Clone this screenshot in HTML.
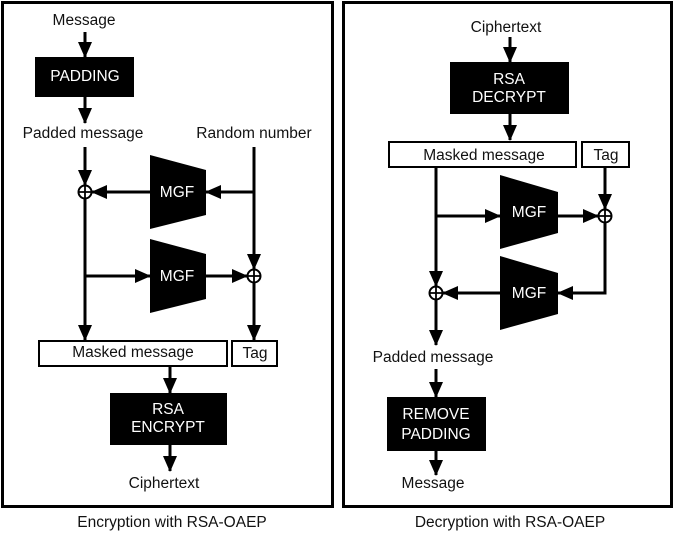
<!DOCTYPE html>
<html><head><style>
html,body{margin:0;padding:0;background:#fff;}
svg{display:block;}
text{font-family:"Liberation Sans",Arial,sans-serif;font-size:15.5px;fill:#111;text-anchor:middle;dominant-baseline:middle;}
</style></head><body>
<svg width="674" height="534" viewBox="0 0 674 534" xmlns="http://www.w3.org/2000/svg">
<defs>
<marker id="a" markerWidth="16" markerHeight="16" refX="15" refY="8" orient="auto" markerUnits="userSpaceOnUse">
<path d="M0,1 L16,8 L0,15 z" fill="#000"/>
</marker>
</defs>
<rect width="674" height="534" fill="#fff"/>
<rect x="2.5" y="2.5" width="330" height="504" fill="none" stroke="#000" stroke-width="3"/>
<rect x="343.5" y="2.5" width="328" height="504" fill="none" stroke="#000" stroke-width="3"/>

<g stroke="#000" stroke-width="3" fill="none">
<line x1="85" y1="32" x2="85" y2="57" marker-end="url(#a)"/>
<line x1="85" y1="97" x2="85" y2="123" marker-end="url(#a)"/>
<line x1="85" y1="147" x2="85" y2="185" marker-end="url(#a)"/>
<line x1="85" y1="199" x2="85" y2="340" marker-end="url(#a)"/>
<line x1="150" y1="192" x2="92" y2="192" marker-end="url(#a)"/>
<line x1="254" y1="192" x2="206" y2="192" marker-end="url(#a)"/>
<line x1="254" y1="147" x2="254" y2="269" marker-end="url(#a)"/>
<line x1="85" y1="276" x2="150" y2="276" marker-end="url(#a)"/>
<line x1="206" y1="276" x2="247" y2="276" marker-end="url(#a)"/>
<line x1="254" y1="283" x2="254" y2="340" marker-end="url(#a)"/>
<line x1="170" y1="366" x2="170" y2="393" marker-end="url(#a)"/>
<line x1="170" y1="445" x2="170" y2="471" marker-end="url(#a)"/>
<line x1="510" y1="37" x2="510" y2="62" marker-end="url(#a)"/>
<line x1="510" y1="114" x2="510" y2="140" marker-end="url(#a)"/>
<line x1="436" y1="167" x2="436" y2="286" marker-end="url(#a)"/>
<line x1="436" y1="216" x2="500" y2="216" marker-end="url(#a)"/>
<line x1="558" y1="216" x2="598" y2="216" marker-end="url(#a)"/>
<line x1="605" y1="167" x2="605" y2="209" marker-end="url(#a)"/>
<polyline points="605,223 605,293 558,293" marker-end="url(#a)"/>
<line x1="500" y1="293" x2="443" y2="293" marker-end="url(#a)"/>
<line x1="436" y1="300" x2="436" y2="345" marker-end="url(#a)"/>
<line x1="436" y1="369" x2="436" y2="397" marker-end="url(#a)"/>
<line x1="436" y1="451" x2="436" y2="475" marker-end="url(#a)"/>
</g>

<g stroke="#000" stroke-width="2" fill="#fff">
<circle cx="85" cy="192" r="6.5"/><circle cx="254" cy="276" r="6.5"/>
<circle cx="605" cy="216" r="6.5"/><circle cx="436" cy="293" r="6.5"/>
</g>
<g stroke="#000" stroke-width="1.8">
<path d="M78.5,192 H91.5 M85,185.5 V198.5"/><path d="M247.5,276 H260.5 M254,269.5 V282.5"/>
<path d="M598.5,216 H611.5 M605,209.5 V222.5"/><path d="M429.5,293 H442.5 M436,286.5 V299.5"/>
</g>

<rect x="35" y="57" width="99" height="40" fill="#000"/>
<text x="85" y="77" style="fill:#fff">PADDING</text>
<rect x="110" y="393" width="117" height="52" fill="#000"/>
<text x="168" y="410" style="fill:#fff">RSA</text>
<text x="168" y="428" style="fill:#fff">ENCRYPT</text>
<rect x="450" y="62" width="119" height="52" fill="#000"/>
<text x="509" y="80" style="fill:#fff">RSA</text>
<text x="509" y="98" style="fill:#fff">DECRYPT</text>
<rect x="387" y="397" width="99" height="54" fill="#000"/>
<text x="436" y="415" style="fill:#fff">REMOVE</text>
<text x="436" y="435" style="fill:#fff">PADDING</text>

<polygon points="150,155 206,170 206,215 150,229" fill="#000"/>
<text x="177" y="193" style="fill:#fff">MGF</text>
<polygon points="150,239 206,254 206,299 150,313" fill="#000"/>
<text x="177" y="277" style="fill:#fff">MGF</text>
<polygon points="500,175 558,192 558,233 500,249" fill="#000"/>
<text x="529" y="213" style="fill:#fff">MGF</text>
<polygon points="500,256 558,273 558,314 500,330" fill="#000"/>
<text x="529" y="294" style="fill:#fff">MGF</text>

<g fill="#fff" stroke="#000" stroke-width="2">
<rect x="39" y="341" width="188" height="25"/>
<rect x="232" y="341" width="45" height="25"/>
<rect x="389" y="142" width="187" height="25"/>
<rect x="582" y="142" width="47" height="25"/>
</g>
<text x="133" y="353">Masked message</text>
<text x="255" y="354">Tag</text>
<text x="484" y="156">Masked message</text>
<text x="606" y="156">Tag</text>

<text x="84" y="21">Message</text>
<text x="83" y="134">Padded message</text>
<text x="254" y="134">Random number</text>
<text x="164" y="484">Ciphertext</text>
<text x="506" y="28">Ciphertext</text>
<text x="433" y="358">Padded message</text>
<text x="433" y="484">Message</text>
<text x="172" y="523">Encryption with RSA-OAEP</text>
<text x="510" y="523">Decryption with RSA-OAEP</text>
</svg>
</body></html>
